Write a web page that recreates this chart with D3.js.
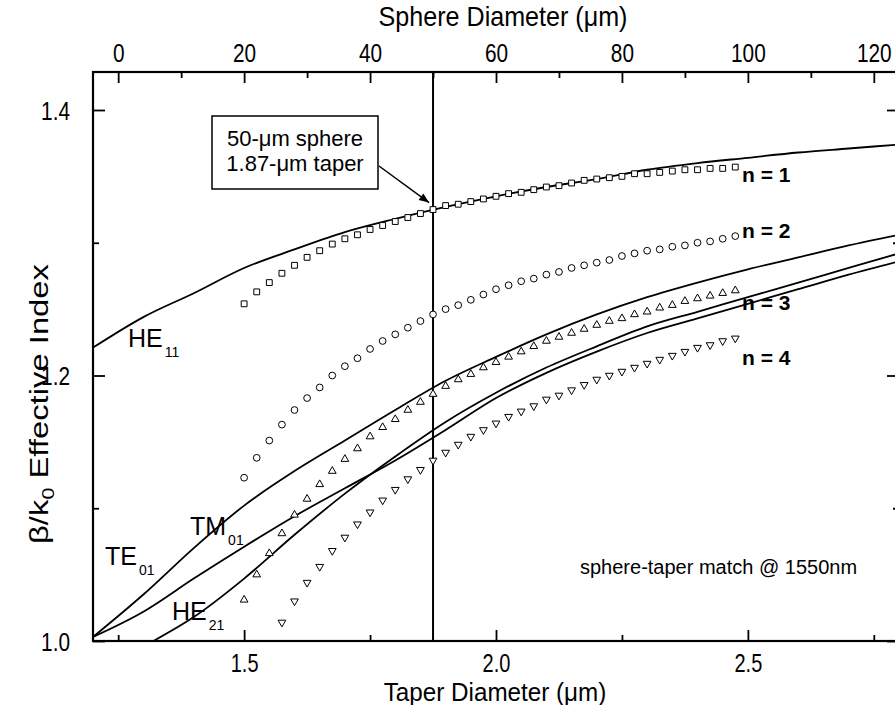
<!DOCTYPE html>
<html><head><meta charset="utf-8">
<script src="https://cdn.jsdelivr.net/npm/d3@7"></script>
<style>
body{margin:0;background:#fff}
svg{display:block}
text{font-family:"Liberation Sans",Arial,sans-serif;fill:#000}
</style>
</head><body>
<svg id="chart" width="895" height="705"></svg>
<script>
// ---------------- data ----------------
// sphere diameters (µm) of the matching points
const sphereD = [20,22,24,26,28,30,32,34,36,38,40,42,44,46,48,50,52,54,56,58,60,62,64,66,68,70,72,74,76,78,80,82,84,86,88,90,92,94,96,98];
const sphereD4 = [26,28,30,32,34,36,38,40,42,44,46,48,50,52,54,56,58,60,62,64,66,68,70,72,74,76,78,80,82,84,86,88,90,92,94,96,98];
// sphere mode effective index, n = 1..4
const sphereN1 = [1.254,1.263,1.270,1.277,1.283,1.289,1.294,1.299,1.303,1.306,1.310,1.313,1.316,1.319,1.322,1.325,1.328,1.329,1.331,1.333,1.335,1.337,1.338,1.340,1.342,1.343,1.345,1.347,1.348,1.349,1.350,1.352,1.352,1.353,1.354,1.355,1.355,1.356,1.356,1.357];
const sphereN2 = [1.123,1.138,1.151,1.163,1.174,1.183,1.191,1.200,1.207,1.213,1.220,1.226,1.231,1.236,1.241,1.246,1.250,1.253,1.257,1.261,1.265,1.268,1.271,1.273,1.276,1.278,1.281,1.283,1.285,1.287,1.290,1.292,1.294,1.295,1.297,1.298,1.300,1.301,1.303,1.305];
const sphereN3 = [1.031,1.050,1.066,1.081,1.095,1.107,1.118,1.128,1.137,1.145,1.154,1.161,1.167,1.174,1.180,1.186,1.192,1.197,1.201,1.206,1.210,1.214,1.218,1.222,1.226,1.229,1.232,1.235,1.238,1.241,1.243,1.246,1.248,1.251,1.253,1.256,1.258,1.260,1.262,1.264];
const sphereN4 = [1.014,1.030,1.044,1.056,1.068,1.078,1.088,1.097,1.106,1.114,1.122,1.129,1.136,1.142,1.148,1.154,1.159,1.164,1.169,1.173,1.177,1.182,1.185,1.189,1.193,1.197,1.200,1.203,1.206,1.209,1.212,1.215,1.218,1.221,1.223,1.226,1.228];
// taper (fiber) modes vs taper diameter (µm)
const taperD = [1.2,1.3,1.4,1.5,1.6,1.7,1.8,1.9,2.0,2.1,2.2,2.3,2.4,2.5,2.6,2.7,2.8];
const taperHE11 = [1.221,1.244,1.262,1.281,1.295,1.308,1.318,1.327,1.335,1.342,1.348,1.355,1.360,1.364,1.368,1.371,1.374];
const taperTM01 = [1.003,1.035,1.070,1.102,1.128,1.151,1.174,1.196,1.214,1.231,1.246,1.259,1.270,1.280,1.289,1.298,1.306];
const taperTE01 = [1.003,1.022,1.047,1.071,1.094,1.115,1.136,1.159,1.183,1.202,1.218,1.232,1.243,1.254,1.265,1.276,1.286];
const taperD21 = [1.32,1.4,1.5,1.6,1.7,1.8,1.9,2.0,2.1,2.2,2.3,2.4,2.5,2.6,2.7,2.8];
const taperHE21 = [1.000,1.018,1.047,1.080,1.111,1.139,1.165,1.187,1.206,1.222,1.237,1.248,1.259,1.270,1.281,1.292];
// ticks
const bottomMajor = [1.5,2.0,2.5], bottomMinor = [1.25,1.75,2.25,2.75];
const topMajor = [0,20,40,60,80,100,120], topMinor = [10,30,50,70,90,110];
const yMajor = [1.0,1.2,1.4], yMinor = [1.1,1.3];
const matchSphere = 50;

// ---------------- layout ----------------
const svg = d3.select("#chart");
const L = 93, R = 899, T = 72, B = 641;
const x = d3.scaleLinear().domain([1.2,2.8]).range([L,R]);
const xTop = d3.scaleLinear().domain([-4,124]).range([L,R]);
const y = d3.scaleLinear().domain([1.0,1.4]).range([B,110]);

svg.append("defs").append("clipPath").attr("id","clip")
  .append("rect").attr("x",L).attr("y",T).attr("width",R-L).attr("height",B-T);

const SX = 0.8; // condensed look of axis text
function condense(sel){
  sel.each(function(){
    const t = d3.select(this);
    const xx = +t.attr("x") || 0;
    t.attr("x", xx/SX).attr("transform",`scale(${SX},1)`);
  });
}
function styleAxis(g){
  g.select(".domain").remove();
  g.selectAll("line").attr("stroke","#000").attr("stroke-width",1.8);
  g.selectAll("text").attr("font-size",26).attr("fill","#000").attr("font-family","'Liberation Sans',Arial,sans-serif");
}

// bottom axis
svg.append("g").attr("transform",`translate(0,${B})`)
  .call(d3.axisBottom(x).tickValues(bottomMinor).tickSize(-6).tickFormat(""))
  .call(styleAxis);
const gb = svg.append("g").attr("transform",`translate(0,${B})`)
  .call(d3.axisBottom(x).tickValues(bottomMajor).tickSizeInner(-11).tickSizeOuter(0).tickPadding(13).tickFormat(d3.format(".1f")))
  .call(styleAxis);
gb.selectAll("text").attr("font-size",25).attr("dy","0.71em").call(condense);

// top axis
svg.append("g").attr("transform",`translate(0,${T})`)
  .call(d3.axisTop(xTop).tickValues(topMinor).tickSize(-6).tickFormat(""))
  .call(styleAxis);
const gt = svg.append("g").attr("transform",`translate(0,${T})`)
  .call(d3.axisTop(xTop).tickValues(topMajor).tickSizeInner(-11).tickSizeOuter(0).tickPadding(10).tickFormat(d3.format("d")))
  .call(styleAxis);
gt.selectAll("text").call(condense);

// left axis
svg.append("g").attr("transform",`translate(${L},0)`)
  .call(d3.axisLeft(y).tickValues(yMinor).tickSize(-6).tickFormat(""))
  .call(styleAxis);
const gl = svg.append("g").attr("transform",`translate(${L},0)`)
  .call(d3.axisLeft(y).tickValues(yMajor).tickSizeInner(-12).tickSizeOuter(0).tickPadding(23).tickFormat(d3.format(".1f")))
  .call(styleAxis);
gl.selectAll("text").attr("dy","0.36em").call(condense);

// right axis
svg.append("g").attr("transform",`translate(${R},0)`)
  .call(d3.axisRight(y).tickValues(yMinor).tickSize(-6).tickFormat(""))
  .call(styleAxis);
svg.append("g").attr("transform",`translate(${R},0)`)
  .call(d3.axisRight(y).tickValues(yMajor).tickSizeInner(-12).tickSizeOuter(0).tickFormat(""))
  .call(styleAxis);

// frame
svg.append("rect").attr("x",L).attr("y",T).attr("width",R-L).attr("height",B-T)
  .attr("fill","none").attr("stroke","#000").attr("stroke-width",2.2);

// axis titles
svg.append("text").attr("transform",`translate(503,26) scale(0.93,1)`).attr("text-anchor","middle")
  .attr("font-size",27).text("Sphere Diameter (μm)");
svg.append("text").attr("transform",`translate(495,701) scale(0.97,1)`).attr("text-anchor","middle")
  .attr("font-size",25).text("Taper Diameter (μm)");
const yl = svg.append("text").attr("transform","translate(48,404) rotate(-90)").attr("text-anchor","middle")
  .attr("font-size",26).attr("textLength",280).attr("lengthAdjust","spacingAndGlyphs");
yl.append("tspan").text("β/k");
yl.append("tspan").attr("font-size",17).attr("dy",6).text("0");
yl.append("tspan").attr("dy",-6).text(" Effective Index");

// plot content
const plot = svg.append("g").attr("clip-path","url(#clip)");
const line = d3.line().x(d=>x(d[0])).y(d=>y(d[1])).curve(d3.curveMonotoneX);
function drawCurve(xs, ys){
  plot.append("path").datum(xs.map((v,i)=>[v,ys[i]]))
    .attr("d",line).attr("fill","none").attr("stroke","#000").attr("stroke-width",1.8);
}
drawCurve(taperD, taperHE11);
drawCurve(taperD, taperTM01);
drawCurve(taperD, taperTE01);
drawCurve(taperD21, taperHE21);

// vertical match line
plot.append("line").attr("x1",xTop(matchSphere)).attr("x2",xTop(matchSphere))
  .attr("y1",T).attr("y2",B).attr("stroke","#000").attr("stroke-width",2);

// markers
function drawMarkers(xs, ys, type, size, rot){
  const sym = d3.symbol().type(type).size(size);
  plot.append("g").selectAll("path").data(xs.map((v,i)=>[v,ys[i]])).join("path")
    .attr("transform",d=>`translate(${xTop(d[0])},${y(d[1])}) rotate(${rot})`)
    .attr("d",sym).attr("fill","#fff").attr("stroke","#000").attr("stroke-width",1);
}
drawMarkers(sphereD, sphereN1, d3.symbolSquare, 34, 0);
drawMarkers(sphereD, sphereN2, d3.symbolCircle, 36, 0);
drawMarkers(sphereD, sphereN3, d3.symbolTriangle, 26, 0);
drawMarkers(sphereD4, sphereN4, d3.symbolTriangle, 26, 180);

// mode labels
function modeLabel(name, sub, xx, yy){
  const t = svg.append("text").attr("x",xx).attr("y",yy).attr("font-size",25);
  t.append("tspan").text(name);
  t.append("tspan").attr("font-size",14).attr("dy",10).attr("dx",2).text(sub);
}
modeLabel("HE","11",128,347);
modeLabel("TE","01",105,565);
modeLabel("TM","01",190,535);
modeLabel("HE","21",172,620);

// n labels
[["n = 1",182],["n = 2",238],["n = 3",310],["n = 4",365]].forEach(([s,yy])=>{
  svg.append("text").attr("x",742).attr("y",yy).attr("font-size",21).attr("font-weight","bold").text(s);
});

svg.append("text").attr("x",580).attr("y",574).attr("font-size",20).text("sphere-taper match @ 1550nm");

// annotation box and arrow
svg.append("rect").attr("x",212).attr("y",116).attr("width",166).attr("height",73)
  .attr("fill","#fff").attr("stroke","#000").attr("stroke-width",1.5);
svg.append("text").attr("x",295).attr("y",146).attr("text-anchor","middle").attr("font-size",22).text("50-μm sphere");
svg.append("text").attr("x",295).attr("y",171).attr("text-anchor","middle").attr("font-size",22).text("1.87-μm taper");
const ax1 = 379, ay1 = 166, ax2 = xTop(matchSphere)-4, ay2 = y(1.325)-7;
svg.append("line").attr("x1",ax1).attr("y1",ay1).attr("x2",ax2).attr("y2",ay2)
  .attr("stroke","#000").attr("stroke-width",1.5);
const ang = Math.atan2(ay2-ay1, ax2-ax1)*180/Math.PI;
svg.append("path").attr("d","M0,0 L-10,-4 L-10,4 Z").attr("fill","#000")
  .attr("transform",`translate(${ax2},${ay2}) rotate(${ang})`);
</script>
</body></html>
